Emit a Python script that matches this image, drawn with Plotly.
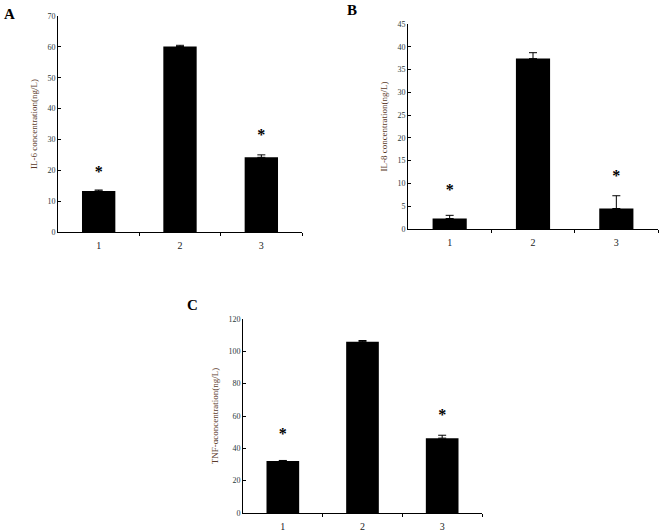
import plotly.graph_objects as go

W, H = 661, 532

groups = ["1", "2", "3"]

il6_mean = [13.3, 60.1, 24.2]
il6_err = [0.3, 0.4, 0.8]
il6_star = [19.0, None, 31.2]

il8_mean = [2.3, 37.4, 4.5]
il8_err = [0.7, 1.3, 2.8]
il8_star = [8.3, None, 11.4]

tnf_mean = [32.1, 106.0, 46.3]
tnf_err = [0.4, 0.7, 1.8]
tnf_star = [48.3, None, 60.2]

SERIF = "Liberation Serif"
TITLE_COLOR = "#5a3a2a"

# panel boxes in page pixels: (x0, x1, y_top, y_bottom)
PANELS = [
    dict(key="", box=(58, 302, 16, 232), rng=[0, 70], dtick=10,
         title="IL-6 concentration(ng/L)", mean=il6_mean, err=il6_err, star=il6_star,
         label="A", lab_xy=(9, 14)),
    dict(key="2", box=(408, 658, 24, 229), rng=[0, 45], dtick=5,
         title="IL-8 concentration(ng/L)", mean=il8_mean, err=il8_err, star=il8_star,
         label="B", lab_xy=(352, 10)),
    dict(key="3", box=(243, 482, 319, 513), rng=[0, 120], dtick=20,
         title="TNF-αconcentration(ng/L)", mean=tnf_mean, err=tnf_err, star=tnf_star,
         label="C", lab_xy=(192, 305)),
]

fig = go.Figure()
layout = {}
annotations = []

for p in PANELS:
    k = p["key"]
    x0, x1, yt, yb = p["box"]
    fig.add_trace(go.Bar(
        x=[1, 2, 3], y=p["mean"], width=0.41,
        marker=dict(color="black", line=dict(width=0)),
        error_y=dict(type="data", symmetric=False, array=p["err"],
                     arrayminus=[0, 0, 0], color="black", thickness=1, width=4),
        xaxis="x" + k, yaxis="y" + k, showlegend=False,
    ))
    sx = [i + 1 for i, s in enumerate(p["star"]) if s is not None]
    sy = [s for s in p["star"] if s is not None]
    fig.add_trace(go.Scatter(
        x=sx, y=sy, mode="text", text=["<b>*</b>"] * len(sx),
        textposition="middle center",
        textfont=dict(family=SERIF, size=16, color="black"),
        xaxis="x" + k, yaxis="y" + k, showlegend=False,
    ))
    layout["xaxis" + k] = dict(
        domain=[x0 / W, x1 / W], range=[0.5, 3.5], anchor="y" + k,
        tickvals=[1, 2, 3], ticktext=groups, ticks="", ticklabelstandoff=4,
        minor=dict(tickvals=[1.5, 2.5, 3.5], ticks="outside", ticklen=3,
                   tickcolor="black", tickwidth=1),
        showline=True, linecolor="black", linewidth=1, showgrid=False,
        zeroline=False, fixedrange=True, automargin=False,
        tickfont=dict(family=SERIF, size=10, color="#222"),
    )
    layout["yaxis" + k] = dict(
        domain=[1 - yb / H, 1 - yt / H], range=p["rng"], dtick=p["dtick"],
        anchor="x" + k, ticks="inside", ticklen=3, tickcolor="black",
        showline=True, linecolor="black", linewidth=1, showgrid=False,
        zeroline=False, fixedrange=True, automargin=False,
        tickfont=dict(family=SERIF, size=8, color="#2a3a3a"),
        title=dict(text=p["title"], standoff=8,
                   font=dict(family=SERIF, size=9, color=TITLE_COLOR)),
    )
    lx, ly = p["lab_xy"]
    annotations.append(dict(
        text="<b>" + p["label"] + "</b>", x=lx / W, y=1 - ly / H,
        xref="paper", yref="paper", showarrow=False,
        xanchor="center", yanchor="middle",
        font=dict(family=SERIF, size=15, color="black"),
    ))

fig.update_layout(
    width=W, height=H,
    margin=dict(l=0, r=0, t=0, b=0),
    paper_bgcolor="white", plot_bgcolor="white",
    bargap=0.5,
    annotations=annotations,
    **layout,
)

# drop the browser's default body margin so the figure sits at the page corner
fig.write_html("out.html", config={"displayModeBar": False},
               post_script="document.body.style.margin = '0';")
